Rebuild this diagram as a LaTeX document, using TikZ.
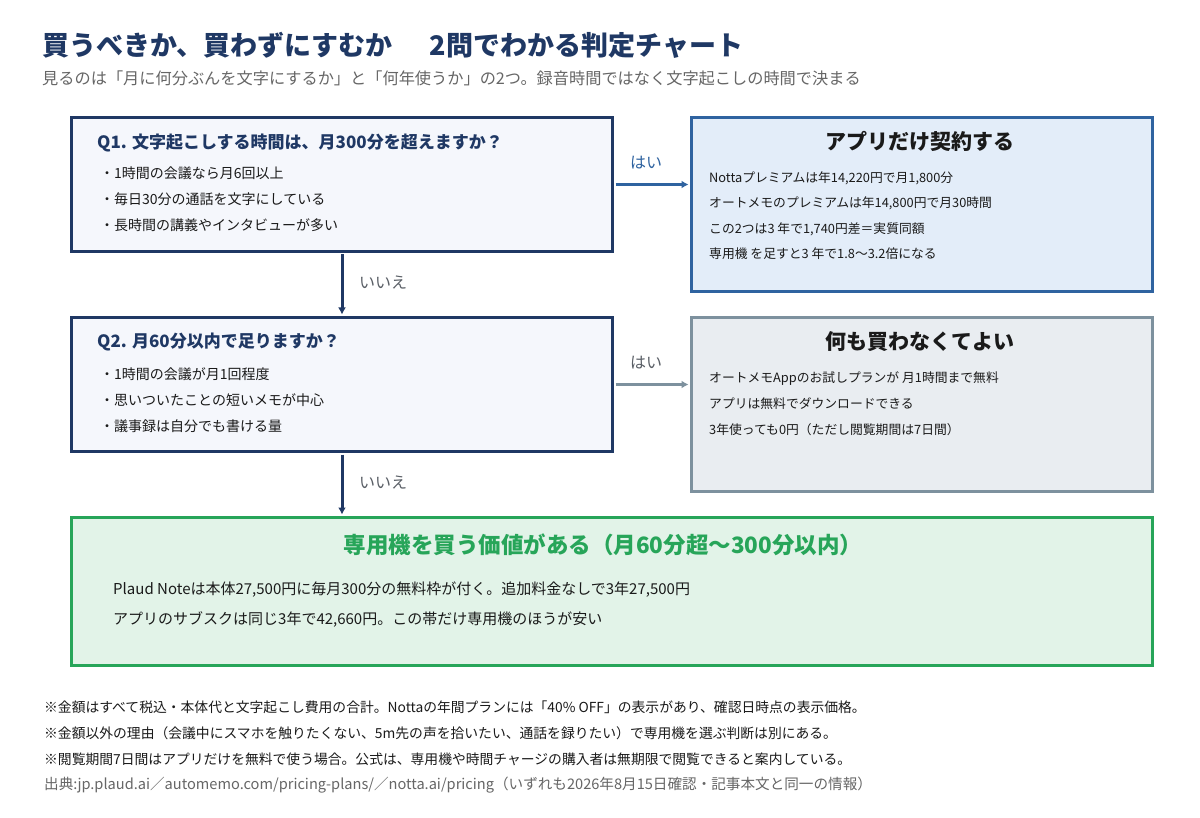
\documentclass[tikz,border=0pt]{standalone}
\usepackage{fontspec}
\setmainfont{Noto Sans CJK JP}
\usetikzlibrary{arrows.meta}
\definecolor{navy}{HTML}{1F3864}
\definecolor{qfill}{HTML}{F5F7FC}
\definecolor{blueA}{HTML}{2F63A0}
\definecolor{appfill}{HTML}{E3EDF9}
\definecolor{slate}{HTML}{7D919E}
\definecolor{nofill}{HTML}{E9EDF1}
\definecolor{greenA}{HTML}{27A559}
\definecolor{greenfill}{HTML}{E2F3E8}
\definecolor{subgray}{HTML}{666666}
\definecolor{lblgray}{HTML}{5A5F66}
\definecolor{bodyblack}{HTML}{1A1A1A}
\newcommand\myfs[1]{\fontsize{#1}{#1}\selectfont}
\begin{document}
\begin{tikzpicture}[x=1pt,y=-1pt,
  box/.style={draw, line width=3pt, inner sep=0pt, anchor=north west},
  txt/.style={anchor=west, inner sep=0pt, text=bodyblack},
  qtitle/.style={txt, text=navy, font=\myfs{17}\bfseries},
  bul/.style={txt, font=\myfs{14}},
  restitle/.style={anchor=center, inner sep=0pt, text=bodyblack, font=\myfs{21}\bfseries},
  resline/.style={txt, font=\myfs{12.8}},
  greenline/.style={txt, font=\myfs{15}},
  note/.style={txt, font=\myfs{13.8}},
  lbl/.style={anchor=center, inner sep=0pt, font=\myfs{16}},
  arr/.style={line width=3pt, -{Latex[length=7pt,width=8pt]}, shorten <=1.5pt, shorten >=1.5pt}]
\useasboundingbox[fill=white] (0,0) rectangle (1200,818);

% title
\node[txt, text=navy, font=\myfs{27}\bfseries] (title) at (42,45) {買うべきか、買わずにすむか\hspace{37pt}2問でわかる判定チャート};
\node[txt, text=subgray, font=\myfs{16.2}] (sub) at (42,78) {見るのは「月に何分ぶんを文字にするか」と「何年使うか」の2つ。録音時間ではなく文字起こしの時間で決まる};

% boxes
\node[box, draw=navy, fill=qfill, minimum width=541pt, minimum height=134pt] (q1) at (70,116) {};
\node[box, draw=navy, fill=qfill, minimum width=541pt, minimum height=134pt] (q2) at (70,316) {};
\node[box, draw=blueA, fill=appfill, minimum width=461pt, minimum height=174pt] (app) at (690,116) {};
\node[box, draw=slate, fill=nofill, minimum width=461pt, minimum height=174pt] (none) at (690,316) {};
\node[box, draw=greenA, fill=greenfill, minimum width=1081pt, minimum height=148pt] (buy) at (70,516) {};

% Q1
\node[qtitle] (q1t) at (97,143) {Q1. 文字起こしする時間は、月300分を超えますか？};
\node[bul] (q1a) at (100,173) {・1時間の会議なら月6回以上};
\node[bul] (q1b) at (100,199) {・毎日30分の通話を文字にしている};
\node[bul] (q1c) at (100,225) {・長時間の講義やインタビューが多い};

% Q2
\node[qtitle] (q2t) at (97,342) {Q2. 月60分以内で足りますか？};
\node[bul] (q2a) at (100,374) {・1時間の会議が月1回程度};
\node[bul] (q2b) at (100,400) {・思いついたことの短いメモが中心};
\node[bul] (q2c) at (100,426) {・議事録は自分でも書ける量};

% App box
\node[restitle] (appt) at (920,141) {アプリだけ契約する};
\node[resline] (appa) at (709,178) {Nottaプレミアムは年14,220円で月1,800分};
\node[resline] (appb) at (709,203) {オートメモのプレミアムは年14,800円で月30時間};
\node[resline] (appc) at (709,229) {この2つは3 年で1,740円差＝実質同額};
\node[resline] (appd) at (709,254) {専用機 を足すと3 年で1.8～3.2倍になる};

% Nothing box
\node[restitle] (nonet) at (920,342) {何も買わなくてよい};
\node[resline] (nonea) at (709,379) {オートメモAppのお試しプランが 月1時間まで無料};
\node[resline] (noneb) at (709,404) {アプリは無料でダウンロードできる};
\node[resline] (nonec) at (709,430) {3年使っても0円（ただし閲覧期間は7日間）};

% Buy box
\node[anchor=center, inner sep=0pt, text=greenA, font=\myfs{22.5}\bfseries] (buyt) at (603,545) {専用機を買う価値がある（月60分超～300分以内）};
\node[greenline] (buya) at (113,590) {Plaud Noteは本体27,500円に毎月300分の無料枠が付く。追加料金なしで3年27,500円};
\node[greenline] (buyb) at (113,619) {アプリのサブスクは同じ3年で42,660円。この帯だけ専用機のほうが安い};

% connectors
\draw[arr, draw=blueA] (q1.east) -- (q1.east -| app.west);
\draw[arr, draw=slate] (q2.east) -- (q2.east -| none.west);
\draw[arr, draw=navy] (q1.south) -- (q2.north);
\draw[arr, draw=navy] (q2.south) -- (q2.south |- buy.north);
\node[lbl, text=blueA] (yes1) at (646,163) {はい};
\node[lbl, text=lblgray] (yes2) at (646,363) {はい};
\node[lbl, text=lblgray] (no1) at (383,283) {いいえ};
\node[lbl, text=lblgray] (no2) at (383,483) {いいえ};

% notes
\node[note] (n1) at (44,707) {※金額はすべて税込・本体代と文字起こし費用の合計。Nottaの年間プランには「40\% OFF」の表示があり、確認日時点の表示価格。};
\node[note] (n2) at (44,733) {※金額以外の理由（会議中にスマホを触りたくない、5m先の声を拾いたい、通話を録りたい）で専用機を選ぶ判断は別にある。};
\node[note] (n3) at (44,759) {※閲覧期間7日間はアプリだけを無料で使う場合。公式は、専用機や時間チャージの購入者は無期限で閲覧できると案内している。};
\node[note, text=subgray, font=\myfs{14.6}] (n4) at (44,785) {出典:jp.plaud.ai／automemo.com/pricing-plans/／notta.ai/pricing（いずれも2026年8月15日確認・記事本文と同一の情報）};
\end{tikzpicture}
\end{document}
